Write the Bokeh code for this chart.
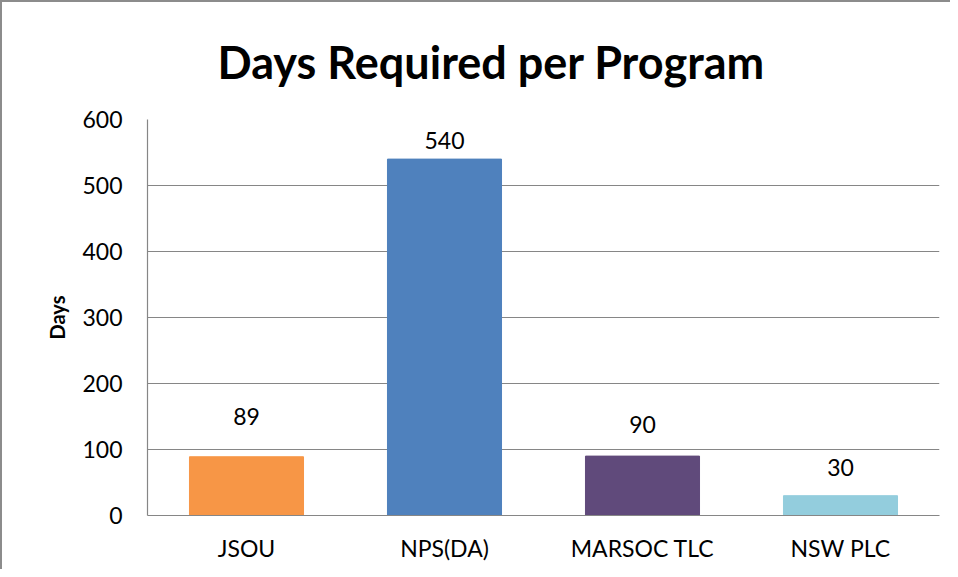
from bokeh.plotting import figure
from bokeh.models import ColumnDataSource, Range1d, FactorRange, SingleIntervalTicker
from bokeh.core.properties import value
from bokeh.embed import file_html
from bokeh.resources import INLINE

programs = ["JSOU", "NPS(DA)", "MARSOC TLC", "NSW PLC"]
days = [89, 540, 90, 30]
bar_colors = ["#F79646", "#4F81BD", "#604A7B", "#93CDDD"]
label_offsets = [-40, -19, -32, -28]

FONT = "Lato"
GRID = "#868686"

src = ColumnDataSource(dict(
    program=programs,
    days=days,
    color=bar_colors,
    label=[str(d) for d in days],
    yoff=label_offsets,
))

p = figure(
    x_range=FactorRange(*programs, range_padding=0),
    y_range=Range1d(0, 600),
    width=950, height=569,
    output_backend="svg", toolbar_location=None,
    min_border_left=145, min_border_right=13,
    min_border_top=116, min_border_bottom=56,
)
p.styles = {"border-left": "2px solid #8c8c8c", "border-top": "2px solid #8c8c8c"}

p.vbar(x="program", top="days", width=0.576, color="color", source=src)
p.text(x="program", y="days", text="label", y_offset="yoff", source=src,
       text_align="center", text_baseline="middle",
       text_font=value(FONT), text_font_size="23px", text_color="#000000")

p.title.text = "Days Required per Program"
p.title.text_font = FONT
p.title.text_font_style = "bold"
p.title.text_font_size = "45px"
p.title.text_color = "#000000"
p.title.align = "left"
p.title.offset = 70
p.title.standoff = 61

p.outline_line_color = None
p.xgrid.grid_line_color = None
p.ygrid.grid_line_color = GRID
p.ygrid.grid_line_width = 1.2
p.yaxis.ticker = SingleIntervalTicker(interval=100)

for ax in (p.xaxis[0], p.yaxis[0]):
    ax.axis_line_color = GRID
    ax.axis_line_width = 1.2
    ax.major_tick_line_color = None
    ax.minor_tick_line_color = None
    ax.major_label_text_font = FONT
    ax.major_label_text_font_size = "23px"
    ax.major_label_text_color = "#000000"

p.yaxis.major_label_standoff = 19
p.xaxis.major_label_standoff = 12
p.yaxis.axis_label = "Days"
p.yaxis.axis_label_text_font = FONT
p.yaxis.axis_label_text_font_style = "bold"
p.yaxis.axis_label_text_font_size = "20px"
p.yaxis.axis_label_text_color = "#000000"
p.yaxis.axis_label_standoff = 10

open("out.html", "w").write(file_html(p, INLINE))
